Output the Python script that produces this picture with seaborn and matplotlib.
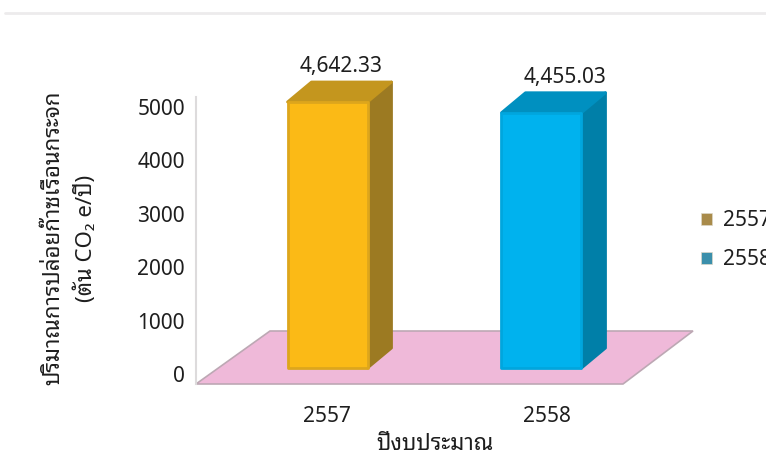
import matplotlib
matplotlib.use('Agg')
import matplotlib.pyplot as plt
from matplotlib.patches import Patch, Polygon
import seaborn as sns
import pandas as pd

years = ['2557', '2558']
emissions = [4642.33, 4455.03]
value_labels = ['4,642.33', '4,455.03']
y_ticks = [0, 1000, 2000, 3000, 4000, 5000]
y_title = 'ปริมาณการปล่อยก๊าซเรือนกระจก\n(ตัน CO₂ e/ปี)'
x_title = 'ปีงบประมาณ'

FRONT = {'2557': '#FBBA16', '2558': '#00B2EE'}
FRONT_EDGE = {'2557': '#DDA61C', '2558': '#00A6DE'}
SIDE = {'2557': '#9C7A22', '2558': '#007FA8'}
TOP = {'2557': '#C4961E', '2558': '#0090C0'}
LEGEND = {'2557': '#A98B4A', '2558': '#3B8FAB'}

W, H = 766, 459
DEPTH_X, DEPTH_Y = 24, 20  # bar depth in pixels


def box(left, top, right, bottom):
    return [left / W, 1 - bottom / H, (right - left) / W, (bottom - top) / H]


def pts(x, y):
    return (x / W, 1 - y / H)


sns.set_theme(style='white')
plt.rcParams['font.family'] = ['Noto Sans', 'Noto Sans Thai Looped', 'DejaVu Sans']
plt.rcParams['text.color'] = '#1E1E1E'
plt.rcParams['axes.labelcolor'] = '#1E1E1E'
plt.rcParams['xtick.color'] = '#1E1E1E'
plt.rcParams['ytick.color'] = '#1E1E1E'

df = pd.DataFrame({'year': years, 'emission': emissions})

fig = plt.figure(figsize=(W / 100, H / 100), dpi=100)

# floor and the faint rule at the top of the page
fig.add_artist(Polygon([pts(196, 384), pts(623, 384), pts(693, 331), pts(270, 331)],
                       closed=True, transform=fig.transFigure, facecolor='#EFB9D9',
                       edgecolor='#BDA8B4', lw=1.2, zorder=-1))
fig.add_artist(plt.Line2D([5 / W, 1], [1 - 12.5 / H] * 2, color='#EDEBEC', lw=2, zorder=-1))

# axis that carries the ticks: 0 at 374 px, 5000 at 107 px
tick_ax = fig.add_axes(box(196, 97, 693, 384))
tick_ax.patch.set_alpha(0)
per_k = (374 - 107) / 5
tick_ax.set_ylim(-(384 - 374) / per_k * 1000, 5000 + (107 - 97) / per_k * 1000)
tick_ax.set_xlim(-(327 - 196) / 220, 1 + (693 - 547) / 220)
tick_ax.set_xticks([0, 1], years)
tick_ax.set_yticks(y_ticks, [str(v) for v in y_ticks])
tick_ax.tick_params(axis='x', length=0, pad=16, labelsize=15)
tick_ax.tick_params(axis='y', length=0, pad=8, labelsize=15)
sns.despine(ax=tick_ax, top=True, right=True, bottom=True)
tick_ax.spines['left'].set_color('#DDDBDC')
tick_ax.spines['left'].set_linewidth(1.5)
tick_ax.set_ylabel(y_title, fontsize=16, linespacing=1.6)
tick_ax.yaxis.set_label_coords((97 - 196) / 497, (384 - 238) / 287)
tick_ax.set_xlabel(x_title, fontsize=16)
tick_ax.xaxis.set_label_coords((435 - 196) / 497, (384 - 445) / 287)
tick_ax.xaxis.label.set_verticalalignment('center')

# front plane of the 3D bars: 0 at 368 px, 57.3 px per 1000
bar_ax = fig.add_axes(box(196, 60, 693, 384))
bar_ax.patch.set_alpha(0)
bar_per_k = 57.3
bar_ax.set_ylim(-(384 - 368) / bar_per_k * 1000, (368 - 60) / bar_per_k * 1000)
step = 214
sns.barplot(data=df, x='year', y='emission', hue='year', palette=FRONT, dodge=False,
            saturation=1, width=80 / step, legend=False, ax=bar_ax, zorder=3)
bar_ax.set_xlim(-(327.5 - 196) / step, 1 + (693 - 541.5) / step)
bar_ax.axis('off')

dx = DEPTH_X / step
dy = DEPTH_Y / bar_per_k * 1000
for i, year in enumerate(years):
    bar = bar_ax.containers[i][i] if len(bar_ax.containers[i]) > 1 else bar_ax.containers[i][0]
    x0, x1 = bar.get_x(), bar.get_x() + bar.get_width()
    h = bar.get_height()
    bar.set_edgecolor(FRONT_EDGE[year])
    bar.set_linewidth(2)
    bar.set_joinstyle('round')
    bar_ax.add_patch(Polygon([(x1, 0), (x1 + dx, dy), (x1 + dx, h + dy), (x1, h)], closed=True,
                             facecolor=SIDE[year], edgecolor=SIDE[year], lw=2,
                             joinstyle='round', zorder=2))
    bar_ax.add_patch(Polygon([(x0, h), (x0 + dx, h + dy), (x1 + dx, h + dy), (x1, h)], closed=True,
                             facecolor=TOP[year], edgecolor=TOP[year], lw=2,
                             joinstyle='round', zorder=2))
    # labels sit up and to the right of the front face
    bar_ax.annotate(value_labels[i], xy=((x0 + x1) / 2, h), xytext=((14 + 9.5 * i) * 0.72, 35 * 0.72),
                    textcoords='offset points', ha='center', va='center', fontsize=15,
                    annotation_clip=False)

handles = [Patch(facecolor=LEGEND[y], edgecolor='#DDD8C8', lw=0.5, label=y) for y in years]
fig.legend(handles=handles, loc='center left', bbox_to_anchor=(701 / W, 1 - 240 / H),
           frameon=False, fontsize=15, handlelength=0.52, handleheight=0.52,
           handletextpad=0.55, labelspacing=0.86, borderpad=0, borderaxespad=0)

fig.savefig('out.png', dpi=100)
